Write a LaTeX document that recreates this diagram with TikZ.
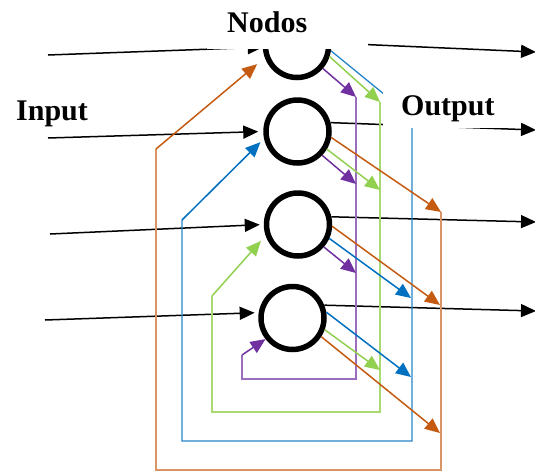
\documentclass[tikz,border=0pt]{standalone}
\usepackage{fontspec}
\setmainfont{Liberation Serif}
\usepackage{tikz}
\usetikzlibrary{arrows.meta}

\definecolor{naranja}{HTML}{C55A11}
\definecolor{azul}{HTML}{0070C0}
\definecolor{verde}{HTML}{92D050}
\definecolor{morado}{HTML}{7030A0}

\begin{document}
\begin{tikzpicture}[x = 1pt, y = -1pt,
    nodo/.style = {circle, draw = black, line width = 5.5pt, minimum size = 63pt, inner sep = 0pt},
    flecha/.style = {-{Triangle[length = 15pt, width = 13pt]}, line width = 1.5pt},
    bus/.style = {line width = 1.3pt},
    etiqueta/.style = {font = \bfseries\fontsize{30}{36}\selectfont, align = left, text height = 20pt, text depth = 0pt}]
  \useasboundingbox (0, 0) rectangle (535, 472);

  \node (n1) [nodo] at (297, 46) {};
  \node (n2) [nodo] at (297.5, 131.5) {};
  \node (n3) [nodo] at (298, 224.5) {};
  \node (n4) [nodo] at (292.5, 318) {};

  \coordinate (e1) at (48, 55);
  \coordinate (e2) at (48, 138);
  \coordinate (e3) at (50, 234);
  \coordinate (e4) at (45, 320);
  \coordinate (s1) at (536, 52);
  \coordinate (s2) at (536, 130);
  \coordinate (s3) at (536, 222);
  \coordinate (s4) at (536, 311);

  \draw[flecha] (e1) -- (n1.182);
  \draw[flecha, shorten >= 5pt] (e2) -- (n2.180);
  \draw[flecha, shorten >= 4pt] (e3) -- (n3.180);
  \draw[flecha, shorten >= 4pt] (e4) -- (n4.171);

  \draw[flecha] (n1.5) -- (s1);
  \draw[flecha] (n2.15) -- (s2);
  \draw[flecha] (n3.13) -- (s3);
  \draw[flecha] (n4.22) -- (s4);

  \coordinate (m1) at (356, 97);
  \coordinate (m2) at (356, 184);
  \coordinate (m3) at (356, 273);
  \coordinate (mb) at (356, 379);
  \coordinate (ma) at (242, 379);
  \coordinate (mc) at (242, 355);
  \draw[bus, color = morado!70] (m1) -- (mb) -- (ma) -- (mc);
  \draw[flecha, color = morado] (mc) -- (n4.218);
  \draw[flecha, color = morado] (n1.-41) -- (m1);
  \draw[flecha, color = morado] (n2.-44) -- (m2);
  \draw[flecha, color = morado] (n3.-41) -- (m3);

  \coordinate (v1) at (380, 102);
  \coordinate (v2) at (380, 190);
  \coordinate (v4) at (380, 370);
  \coordinate (vb) at (380, 412);
  \coordinate (va) at (212, 412);
  \coordinate (vc) at (212, 296);
  \draw[bus, color = verde!80] (v1) -- (vb) -- (va) -- (vc);
  \draw[flecha, color = verde, shorten >= 7pt] (vc) -- (n3.199);
  \draw[flecha, color = verde] (n1.-18) -- (v1);
  \draw[flecha, color = verde] (n2.-31) -- (v2);
  \draw[flecha, color = verde] (n4.-20) -- (v4);

  \coordinate (a0) at (412, 117);
  \coordinate (a3) at (411, 298);
  \coordinate (a4) at (411, 377);
  \coordinate (ab) at (412, 441);
  \coordinate (aa) at (182, 441);
  \coordinate (ac) at (182, 220);
  \draw[bus, color = azul!85] (n1.-8) -- (a0) -- (ab) -- (aa) -- (ac);
  \draw[flecha, color = azul, shorten >= 5pt] (ac) -- (n2.192);
  \draw[flecha, color = azul] (n3.-24) -- (a3);
  \draw[flecha, color = azul] (n4.10) -- (a4);

  \coordinate (o2) at (441, 212);
  \coordinate (o3) at (440, 305);
  \coordinate (o4) at (440, 433);
  \coordinate (ob) at (441, 470);
  \coordinate (oa) at (156, 470);
  \coordinate (oc) at (156, 149);
  \draw[bus, color = naranja!65] (o2) -- (ob) -- (oa) -- (oc);
  \draw[flecha, color = naranja, shorten >= 10pt] (oc) -- (n1.200);
  \draw[flecha, color = naranja] (n2.-10) -- (o2);
  \draw[flecha, color = naranja] (n3.-3) -- (o3);
  \draw[flecha, color = naranja] (n4.-33) -- (o4);

  \node (nodos) [etiqueta, fill = white, anchor = south west, text width = 121pt, inner xsep = 20pt, inner ysep = 16pt] at (207, 49) {Nodos};
  \node (output) [etiqueta, fill = white, anchor = south west, text width = 93pt, inner xsep = 18pt, inner ysep = 5.5pt, text height = 24pt, text depth = 6.5pt] at (383, 128) {Output};
  \node (input) [etiqueta, anchor = base west, inner sep = 0pt] at (16, 120) {Input};
\end{tikzpicture}
\end{document}
